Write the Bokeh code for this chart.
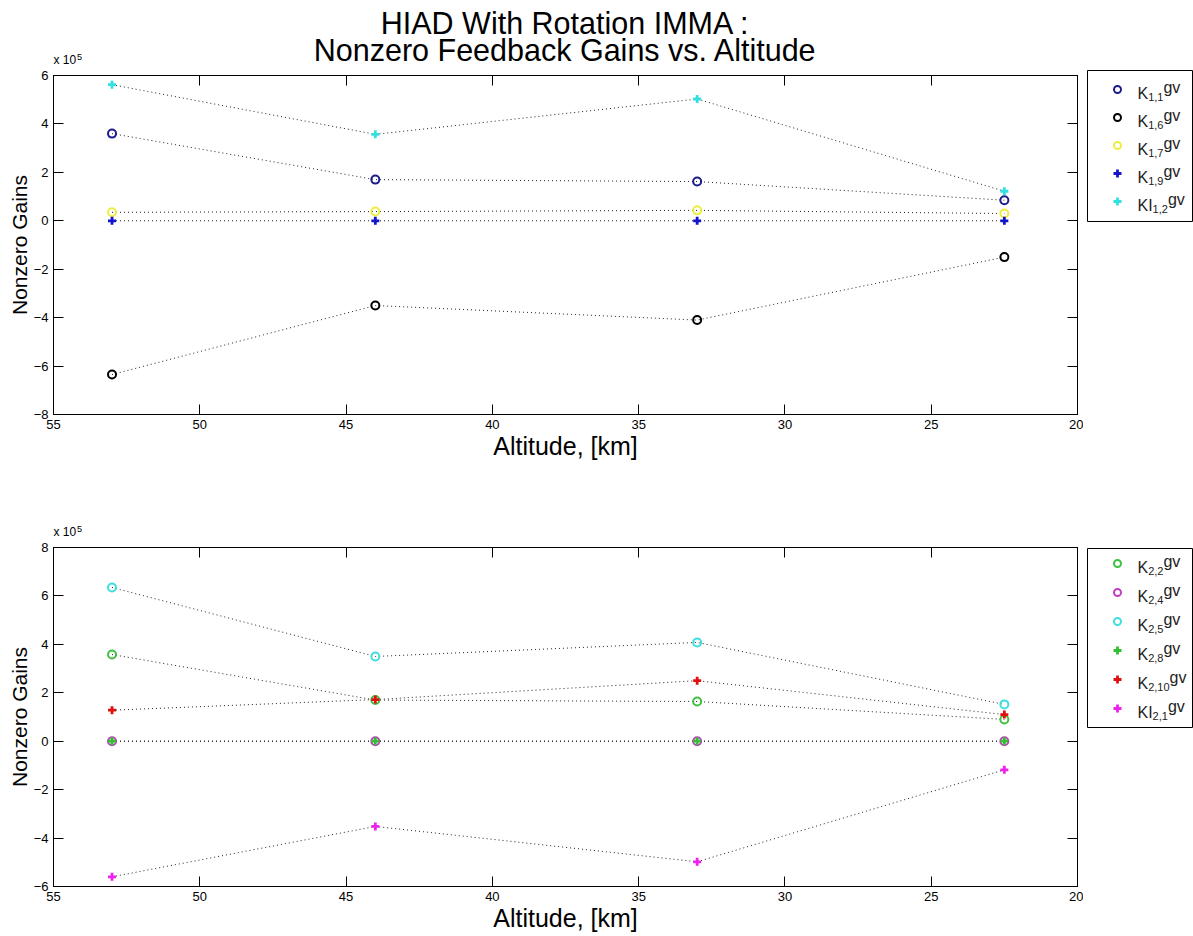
from bokeh.plotting import figure
from bokeh.models import Range1d, LinearAxis, FixedTicker
from bokeh.layouts import column, row
from bokeh.embed import file_html
from bokeh.resources import INLINE
from bokeh.core.properties import value

# ---------------- data ----------------
altitude = [53, 44, 33, 22.5]          # km
SCALE = 1e5

# upper panel (row 1 gains)
k_1_1 = [3.60e5, 1.70e5, 1.62e5, 0.85e5]
k_1_6 = [-6.35e5, -3.50e5, -4.10e5, -1.50e5]
k_1_7 = [0.35e5, 0.38e5, 0.43e5, 0.30e5]
k_1_9 = [0.0, 0.0, 0.0, 0.0]
ki_1_2 = [5.62e5, 3.57e5, 5.03e5, 1.22e5]

# lower panel (row 2 gains)
k_2_2 = [3.58e5, 1.70e5, 1.64e5, 0.90e5]
k_2_4 = [0.0, 0.0, 0.0, 0.0]
k_2_5 = [6.35e5, 3.50e5, 4.08e5, 1.52e5]
k_2_8 = [0.0, 0.0, 0.0, 0.0]
k_2_10 = [1.28e5, 1.72e5, 2.50e5, 1.10e5]
ki_2_1 = [-5.60e5, -3.52e5, -4.98e5, -1.18e5]

x_ticks = [55, 50, 45, 40, 35, 30, 25, 20]
top_y_ticks = [6, 4, 2, 0, -2, -4, -6, -8]
bot_y_ticks = [8, 6, 4, 2, 0, -2, -4, -6]

title_lines = ["HIAD With Rotation IMMA :", "Nonzero Feedback Gains vs. Altitude"]
x_label = "Altitude, [km]"
y_label = "Nonzero Gains"
exp_base = "x 10"
exp_power = "5"

# (prefix, subscript, values, marker, color)
top_series = [
    ("K", "1,1", k_1_1, "circle", "#1c1c8c"),
    ("K", "1,6", k_1_6, "circle", "#000000"),
    ("K", "1,7", k_1_7, "circle", "#eeee40"),
    ("K", "1,9", k_1_9, "cross", "#1414c8"),
    ("KI", "1,2", ki_1_2, "cross", "#33e0e0"),
]
bot_series = [
    ("K", "2,2", k_2_2, "circle", "#40c040"),
    ("K", "2,4", k_2_4, "circle", "#c040c0"),
    ("K", "2,5", k_2_5, "circle", "#40dede"),
    ("K", "2,8", k_2_8, "cross", "#30c030"),
    ("K", "2,10", k_2_10, "cross", "#e01010"),
    ("KI", "2,1", ki_2_1, "cross", "#ee22ee"),
]

FONT = "Liberation Sans"
W_MAIN = 1083
W_LEG = 110
FRAME_L = 53
FRAME_W = 1024
TOP_PAD = 8     # space kept above each frame inside the panel figure


def blank_fig(width, height):
    f = figure(width=width, height=height, x_range=Range1d(0, width),
               y_range=Range1d(height, 0), output_backend="svg",
               toolbar_location=None, min_border=0, frame_align=False)
    f.axis.visible = False
    f.grid.visible = False
    f.outline_line_color = None
    return f


def style_axis(ax, ticks, show_labels=True):
    ax.ticker = FixedTicker(ticks=ticks)
    ax.major_tick_in = 10
    ax.major_tick_out = 0
    ax.minor_tick_in = 0
    ax.minor_tick_out = 0
    ax.axis_line_color = "black"
    ax.major_tick_line_color = "black"
    if show_labels:
        ax.major_label_text_font = FONT
        ax.major_label_text_font_size = "13px"
        ax.major_label_text_color = "black"
        ax.major_label_standoff = 5
    else:
        ax.major_label_overrides = {t: "" for t in ticks}
        ax.major_label_text_font_size = "1px"
        ax.major_label_standoff = 0


def make_panel(height, b_bottom, yr, yticks, series):
    p = figure(width=W_MAIN, height=height, x_range=Range1d(55, 20),
               y_range=Range1d(yr[0], yr[1]), output_backend="svg",
               toolbar_location=None, min_border_left=FRAME_L, min_border_right=6,
               min_border_top=TOP_PAD, min_border_bottom=b_bottom, frame_align=False)
    p.grid.visible = False
    p.outline_line_color = "black"
    style_axis(p.xaxis[0], x_ticks)
    style_axis(p.yaxis[0], yticks)
    p.xaxis.axis_label = x_label
    p.yaxis.axis_label = y_label
    p.xaxis.axis_label_text_font_size = "25px"
    p.yaxis.axis_label_text_font_size = "21px"
    for ax in (p.xaxis[0], p.yaxis[0]):
        ax.axis_label_text_font = FONT
        ax.axis_label_text_font_style = "normal"
        ax.axis_label_text_color = "black"
        ax.axis_label_standoff = 0
    ra = LinearAxis()
    style_axis(ra, yticks, show_labels=False)
    p.add_layout(ra, "right")
    ta = LinearAxis()
    style_axis(ta, x_ticks, show_labels=False)
    p.add_layout(ta, "above")
    for pre, sub, vals, mk, col in series:
        ys = [v / SCALE for v in vals]
        p.line(altitude, ys, line_color="#222222", line_width=1, line_dash="1 3")
    for pre, sub, vals, mk, col in series:
        ys = [v / SCALE for v in vals]
        if mk == "circle":
            p.scatter(altitude, ys, marker="circle", size=8, fill_color=None,
                      line_color=col, line_width=2)
        else:
            p.scatter(altitude, ys, marker="cross", size=8, line_color=col,
                      line_width=2.8)
    return p


def make_header(height, titles):
    h = blank_fig(W_MAIN, height)
    if titles:
        h.text([FRAME_L + FRAME_W / 2] * 2, [22, 49], text=titles,
               text_font=value(FONT), text_font_size="30.5px", text_align="center",
               text_baseline="middle", text_color="black")
    # exponent note sits on the lower edge of the header strip
    h.text([FRAME_L], [height - 0.5], text=[exp_base], text_font=value(FONT),
           text_font_size="12px", text_baseline="bottom", text_color="black")
    h.text([FRAME_L + 23.5], [height - 7.5], text=[exp_power], text_font=value(FONT),
           text_font_size="9px", text_baseline="bottom", text_color="black")
    return h


ADV = {"K": 0.667, "I": 0.278, ",": 0.278}


def adv(s, size):
    return sum(ADV.get(c, 0.556) for c in s) * size


def make_legend(height, box_top, box_bottom, entry_y, series):
    lg = blank_fig(W_LEG, height)
    lg.quad(left=[4], right=[109], top=[box_top], bottom=[box_bottom],
            fill_color="white", line_color="black", line_width=1)
    for (pre, sub, vals, mk, col), y in zip(series, entry_y):
        if mk == "circle":
            lg.scatter([34], [y], marker="circle", size=7, fill_color=None,
                       line_color=col, line_width=2)
        else:
            lg.scatter([34], [y], marker="cross", size=8, line_color=col,
                       line_width=2.8)
        x0 = 54
        x1 = x0 + adv(pre, 16)
        x2 = x1 + adv(sub, 11)
        lg.text([x0], [y + 3.5], text=[pre], text_font=value(FONT),
                text_font_size="16px", text_baseline="alphabetic", text_color="#222222")
        lg.text([x1], [y + 7.5], text=[sub], text_font=value(FONT),
                text_font_size="11px", text_baseline="alphabetic", text_color="#222222")
        lg.text([x2], [y - 2], text=["gv"], text_font=value(FONT),
                text_font_size="16px", text_baseline="alphabetic", text_color="#222222")
    return lg


# page layout: frame 1 spans y 75..414, frame 2 spans y 547..886
H1 = 75 - TOP_PAD
head1 = make_header(H1, title_lines)
top = make_panel(470 - H1, 56, (-8, 6), top_y_ticks, top_series)
top_leg = make_legend(470, 70, 221, [89, 117, 145, 173, 201], top_series)

H2 = 77 - TOP_PAD
head2 = make_header(H2, None)
bot = make_panel(466 - H2, 50, (-6, 8), bot_y_ticks, bot_series)
bot_leg = make_legend(466, 78, 257, [93, 122, 151, 180, 209, 238], bot_series)

layout = column(row(column(head1, top), top_leg), row(column(head2, bot), bot_leg))
open("out.html", "w").write(file_html(layout, INLINE))
